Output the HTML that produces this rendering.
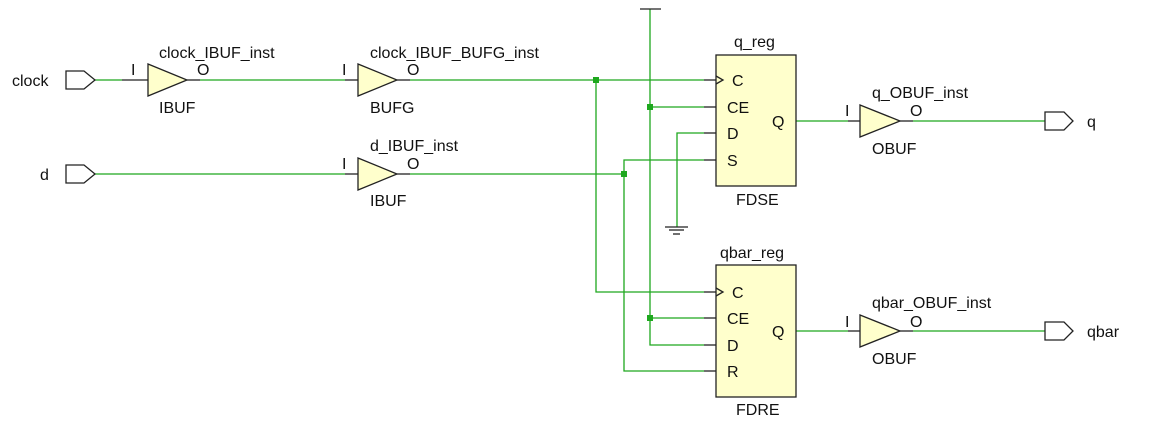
<!DOCTYPE html>
<html><head><meta charset="utf-8"><style>
body{margin:0;background:#fff}
svg text{font-family:"Liberation Sans",sans-serif;font-size:16px;fill:#111}
</style></head><body>
<svg width="1160" height="417" viewBox="0 0 1160 417" xmlns="http://www.w3.org/2000/svg">
<g fill="none" stroke="#1ea81e" stroke-width="1.3">
<polyline points="95,80 122,80"/>
<polyline points="200,80 345,80"/>
<polyline points="410,80 704,80"/>
<polyline points="596,80 596,292 704,292"/>
<polyline points="95,174 345,174"/>
<polyline points="410,174 624,174"/>
<polyline points="624,174 624,160 704,160"/>
<polyline points="624,174 624,371 704,371"/>
<polyline points="650,9 650,345 704,345"/>
<polyline points="650,107 704,107"/>
<polyline points="650,318 704,318"/>
<polyline points="704,133 677,133 677,227"/>
<polyline points="796,121 848,121"/>
<polyline points="913,121 1045,121"/>
<polyline points="796,331 848,331"/>
<polyline points="913,331 1045,331"/>
</g>
<g fill="#1ea81e">
<rect x="593" y="77" width="6" height="6"/>
<rect x="621" y="171" width="6" height="6"/>
<rect x="647" y="104" width="6" height="6"/>
<rect x="647" y="315" width="6" height="6"/>
</g>
<g fill="#ffffcc" stroke="#222" stroke-width="1.3">
<polygon points="148,64 187,80 148,96"/>
<polygon points="358,64 397,80 358,96"/>
<polygon points="358,158 397,174 358,190"/>
<polygon points="860,105 900,121 860,137"/>
<polygon points="860,315 900,331 860,347"/>
<rect x="716" y="55" width="80" height="131"/>
<rect x="716" y="265" width="80" height="132"/>
</g>
<g stroke="#222" stroke-width="1.3" fill="none">
<line x1="640" y1="9" x2="661" y2="9"/>
<line x1="665" y1="227" x2="688" y2="227"/>
<line x1="669" y1="230" x2="684" y2="230"/>
<line x1="673" y1="234" x2="680" y2="234"/>
<line x1="122" y1="80" x2="148" y2="80"/><line x1="187" y1="80" x2="200" y2="80"/>
<line x1="345" y1="80" x2="358" y2="80"/><line x1="397" y1="80" x2="410" y2="80"/>
<line x1="345" y1="174" x2="358" y2="174"/><line x1="397" y1="174" x2="410" y2="174"/>
<line x1="848" y1="121" x2="860" y2="121"/><line x1="900" y1="121" x2="913" y2="121"/>
<line x1="848" y1="331" x2="860" y2="331"/><line x1="900" y1="331" x2="913" y2="331"/>
<line x1="704" y1="80" x2="716" y2="80"/><line x1="704" y1="107" x2="716" y2="107"/><line x1="704" y1="133" x2="716" y2="133"/><line x1="704" y1="160" x2="716" y2="160"/>
<line x1="704" y1="292" x2="716" y2="292"/><line x1="704" y1="318" x2="716" y2="318"/><line x1="704" y1="345" x2="716" y2="345"/><line x1="704" y1="371" x2="716" y2="371"/>
<polyline points="716,76 723,80 716,84"/><polyline points="716,288 723,292 716,296"/>
<polygon points="66,71 84,71 95,80 84,89 66,89" fill="#fff"/>
<polygon points="66,165 84,165 95,174 84,183 66,183" fill="#fff"/>
<polygon points="1045,112 1064,112 1073,121 1064,130 1045,130" fill="#fff"/>
<polygon points="1045,322 1064,322 1073,331 1064,340 1045,340" fill="#fff"/>
</g>
<text x="12" y="86">clock</text>
<text x="40" y="180">d</text>
<text x="1087" y="127">q</text>
<text x="1087" y="337">qbar</text>
<text x="159" y="58">clock_IBUF_inst</text>
<text x="131" y="75">I</text><text x="197" y="75">O</text>
<text x="159" y="113">IBUF</text>
<text x="370" y="58">clock_IBUF_BUFG_inst</text>
<text x="342" y="75">I</text><text x="407" y="75">O</text>
<text x="370" y="113">BUFG</text>
<text x="370" y="151">d_IBUF_inst</text>
<text x="342" y="169">I</text><text x="407" y="169">O</text>
<text x="370" y="206">IBUF</text>
<text x="734" y="47">q_reg</text>
<text x="736" y="205">FDSE</text>
<text x="732" y="86">C</text><text x="727" y="113">CE</text><text x="727" y="139">D</text><text x="727" y="166">S</text><text x="772" y="127">Q</text>
<text x="720" y="258">qbar_reg</text>
<text x="736" y="415">FDRE</text>
<text x="732" y="298">C</text><text x="727" y="324">CE</text><text x="727" y="351">D</text><text x="727" y="377">R</text><text x="772" y="337">Q</text>
<text x="872" y="98">q_OBUF_inst</text>
<text x="845" y="116">I</text><text x="910" y="116">O</text>
<text x="872" y="154">OBUF</text>
<text x="872" y="308">qbar_OBUF_inst</text>
<text x="845" y="327">I</text><text x="910" y="327">O</text>
<text x="872" y="364">OBUF</text>
</svg>
</body></html>
